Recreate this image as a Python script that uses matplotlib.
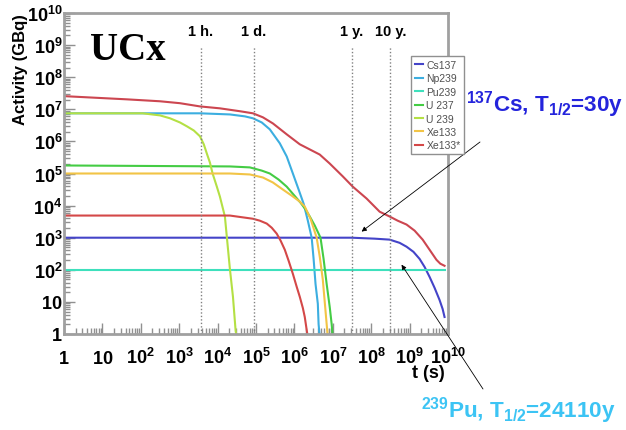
import numpy as np
import matplotlib
matplotlib.use('Agg')
import matplotlib.pyplot as plt
from matplotlib.ticker import LogLocator, NullFormatter
import matplotlib.transforms as mtransforms

plt.rcParams['font.family'] = ['Liberation Sans', 'DejaVu Sans']
plt.rcParams['mathtext.fontset'] = 'custom'
plt.rcParams['mathtext.rm'] = 'Liberation Sans:bold'
plt.rcParams['mathtext.it'] = 'Liberation Sans:bold'
plt.rcParams['mathtext.bf'] = 'Liberation Sans:bold'

# --- activity vs cooling time, stored as log10(t [s]) / log10(A [GBq]) ---
total_logt = [0, 1.64, 2.50, 3.02, 3.54, 4.06, 4.58, 4.92, 5.18, 5.44, 5.80, 6.14,
              6.40, 6.66, 6.92, 7.26, 7.52, 7.88, 8.22, 8.48, 8.69, 8.92, 9.13,
              9.34, 9.52, 9.70, 9.80, 9.91]
total_logA = [7.41, 7.31, 7.25, 7.19, 7.09, 7.03, 6.94, 6.875, 6.75, 6.56, 6.22, 5.91,
              5.75, 5.59, 5.31, 4.91, 4.59, 4.22, 3.81, 3.66, 3.53, 3.41, 3.22,
              2.94, 2.625, 2.31, 2.19, 2.125]

cs137_logt = [0, 7.49, 8.09, 8.48, 8.74, 8.92, 9.10, 9.26, 9.39, 9.52, 9.65, 9.78, 9.86, 9.91]
cs137_logA = [3.00, 3.00, 2.97, 2.94, 2.84, 2.72, 2.56, 2.34, 2.09, 1.78, 1.44, 1.06, 0.78, 0.53]

np239_logt = [0, 3.54, 4.32, 4.71, 4.92, 5.15, 5.36, 5.62, 5.80, 5.96, 6.11, 6.24,
              6.35, 6.45, 6.50, 6.55, 6.61, 6.63, 6.66]
np239_logA = [6.875, 6.875, 6.84, 6.78, 6.72, 6.59, 6.375, 5.94, 5.53, 5.00, 4.50, 4.06,
              3.53, 3.00, 2.34, 1.56, 0.94, 0.31, -0.1]

pu239_logt = [0, 9.91]
pu239_logA = [2.00, 2.00]

u237_logt = [0, 4.32, 4.84, 5.15, 5.36, 5.59, 5.80, 5.98, 6.16, 6.29, 6.40, 6.53, 6.68,
             6.76, 6.84, 6.92, 6.97, 7.00]
u237_logA = [5.25, 5.22, 5.19, 5.09, 5.00, 4.81, 4.59, 4.34, 4.09, 3.88, 3.66, 3.38, 3.00,
             2.34, 1.56, 0.84, 0.31, -0.1]

u239_logt = [0, 2.05, 2.50, 2.76, 3.02, 3.20, 3.38, 3.54, 3.64, 3.72, 3.80, 3.87,
             3.98, 4.06, 4.19, 4.24, 4.32, 4.40, 4.47, 4.50]
u239_logA = [6.875, 6.875, 6.81, 6.72, 6.59, 6.47, 6.34, 6.16, 5.91, 5.62, 5.34, 5.00,
             4.59, 4.28, 3.66, 3.03, 2.03, 1.16, 0.09, -0.1]

xe133_logt = [0, 4.32, 4.84, 5.18, 5.44, 5.70, 5.93, 6.14, 6.27, 6.42, 6.58, 6.66,
              6.74, 6.84, 6.87]
xe133_logA = [5.00, 5.00, 4.97, 4.875, 4.72, 4.50, 4.31, 4.125, 3.97, 3.59, 3.00, 2.41,
              1.69, 0.31, -0.1]

xe133m_logt = [0, 4.32, 4.92, 5.10, 5.28, 5.41, 5.54, 5.64, 5.75, 5.85, 5.96, 6.06,
               6.14, 6.22, 6.27, 6.32, 6.35]
xe133m_logA = [3.69, 3.69, 3.59, 3.53, 3.44, 3.31, 3.125, 2.91, 2.625, 2.28, 1.875, 1.47,
               1.16, 0.81, 0.53, 0.125, -0.1]

marker_times = [3600, 86400, 3.156e7, 3.156e8]
marker_labels = ['1 h.', '1 d.', '1 y.', '10 y.']

decade_labels = ['$1$', '$10$'] + [r'$10^{%d}$' % k for k in range(2, 11)]

series = [
    ('Cs137', cs137_logt, cs137_logA, '#4444c8'),
    ('Np239', np239_logt, np239_logA, '#3caee0'),
    ('Pu239', pu239_logt, pu239_logA, '#3ee0bc'),
    ('U 237', u237_logt, u237_logA, '#44cc44'),
    ('U 239', u239_logt, u239_logA, '#b4e044'),
    ('Xe133', xe133_logt, xe133_logA, '#f2c446'),
    ('Xe133*', xe133m_logt, xe133m_logA, '#d44848'),
]

W, H = 626, 431
fig = plt.figure(figsize=(W / 100, H / 100), dpi=100)
ax = fig.add_axes([64 / W, 1 - 335 / H, (448 - 64) / W, (335 - 14) / H])

ax.plot(10 ** np.array(total_logt), 10 ** np.array(total_logA),
        color='#cc4650', lw=1.5)
for name, lt, la, c in series:
    ax.plot(10 ** np.array(lt), 10 ** np.array(la), color=c, lw=1.5, label=name)

ax.set_xscale('log')
ax.set_yscale('log')
ax.set_xlim(1, 1e10)
ax.set_ylim(1, 1e10)

# reference times
trans = mtransforms.blended_transform_factory(ax.transData, ax.transAxes)
for t, lab in zip(marker_times, marker_labels):
    ax.axvline(t, ymin=0, ymax=0.894, color='#808080', ls=(0, (1, 1.5)), lw=1)
    ax.text(t, 0.945, lab, transform=trans, ha='center', va='center',
            fontsize=10.5, fontweight='bold')

decades = [10.0 ** k for k in range(11)]
ax.set_xticks(decades, decade_labels)
ax.set_yticks(decades, decade_labels)
for axis in (ax.xaxis, ax.yaxis):
    axis.set_minor_locator(LogLocator(base=10, subs=np.arange(2, 10), numticks=100))
    axis.set_minor_formatter(NullFormatter())
ax.tick_params(which='both', direction='in', color='#909090', width=1,
               labelsize=13)
ax.tick_params(which='major', length=8)
ax.tick_params(which='minor', length=4)
ax.tick_params(axis='y', pad=1)
ax.tick_params(axis='x', pad=21)
for lab in ax.get_xticklabels():
    lab.set_verticalalignment('baseline')

for sp in ax.spines.values():
    sp.set_color('#a0a0a0')
    sp.set_linewidth(2)

leg = ax.legend(loc='upper left', bbox_to_anchor=(406 / W, 1 - 52 / H),
                bbox_transform=fig.transFigure, fontsize=7.5, handlelength=0.8,
                handletextpad=0.3, labelspacing=0.33, borderpad=0.35,
                fancybox=False, framealpha=1, edgecolor='#909090')
for txt in leg.get_texts():
    txt.set_color('#505050')

fig.text(21 / W, 1 - 70 / H, 'Activity (GBq)', rotation=90, ha='center',
         va='center', fontsize=12, fontweight='bold')
fig.text(445 / W, 1 - 378 / H, 't (s)', ha='right', va='baseline',
         fontsize=13, fontweight='bold')
fig.text(90 / W, 1 - 60 / H, 'UCx', family='Liberation Serif',
         fontweight='bold', fontsize=28, va='baseline')

fig.text(466 / W, 1 - 112 / H, r'$^{137}$Cs, T$_{1/2}$=30y', color='#2424dc',
         fontsize=16.2, fontweight='bold', ha='left', va='baseline')
fig.text(421 / W, 1 - 418 / H, r'$^{239}$Pu, T$_{1/2}$=24110y', color='#3cc4f4',
         fontsize=16.2, fontweight='bold', ha='left', va='baseline')

arrow = dict(arrowstyle='-|>', color='black', lw=0.6, mutation_scale=7,
             shrinkA=0, shrinkB=0)
ax.annotate('', xy=(10 ** 7.75, 10 ** 3.19), xytext=(480 / W, 1 - 143 / H),
            textcoords='figure fraction', arrowprops=arrow, annotation_clip=False)
ax.annotate('', xy=(10 ** 8.79, 10 ** 2.16), xytext=(483 / W, 1 - 390 / H),
            textcoords='figure fraction', arrowprops=arrow, annotation_clip=False)

fig.savefig('out.png', dpi=100)
